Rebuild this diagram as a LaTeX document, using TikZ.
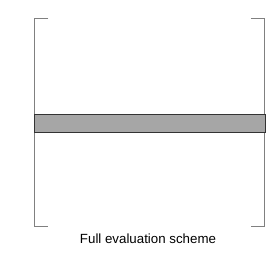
\documentclass[tikz,border=0pt]{standalone}
\usepackage{fontspec}
\setmainfont{Liberation Sans}
\begin{document}
\begin{tikzpicture}[x=1pt,y=-1pt,
  brk/.style={draw=black!50,line width=1pt},
  bar/.style={draw=black!80,fill=black!35,line width=1pt}]
\useasboundingbox (0,0) rectangle (266,255);
\coordinate (lt) at (48.5,18.5);
\coordinate (lb) at (48.5,226.5);
\coordinate (rt) at (251,18.5);
\coordinate (rb) at (251,226.5);
\draw[brk] (lt) -- (34.5,18.5) -- (34.5,226.5) -- (lb);
\draw[brk] (rt) -- (264.8,18.5) -- (264.8,226.5) -- (rb);
\node[bar,inner sep=0pt,minimum width=230.5pt,minimum height=18pt,anchor=north west] (bar) at (34.5,113.5) {};
\node[font=\fontsize{13.3}{15}\selectfont,inner sep=0pt] (cap) at (148,239) {Full evaluation scheme};
\end{tikzpicture}
\end{document}
